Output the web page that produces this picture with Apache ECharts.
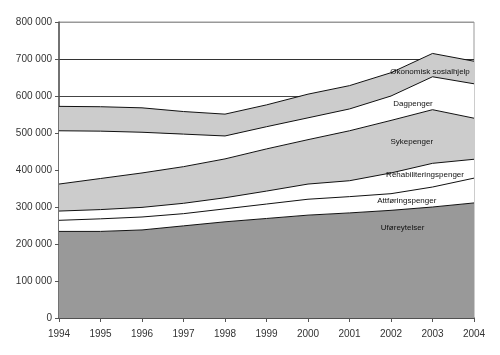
<!DOCTYPE html>
<html>
<head>
<meta charset="utf-8">
<script src="https://cdn.jsdelivr.net/npm/echarts@6/dist/echarts.min.js"></script>
<style>
html,body{margin:0;padding:0;background:#fff;}
#chart{width:500px;height:355px;}
</style>
</head>
<body>
<div id="chart"></div>
<script>
const years = ['1994','1995','1996','1997','1998','1999','2000','2001','2002','2003','2004'];
const uforeytelser     = [234000,234000,238000,249000,260000,269000,278000,284000,291000,300000,311000];
const attforingspenger = [30000,34000,35000,33000,35000,39000,43000,44000,45000,54000,67000];
const rehabilitering   = [25000,25000,26000,28000,30000,35000,41000,43000,56000,64000,51000];
const sykepenger       = [73000,84000,93000,99000,105000,114000,120000,135000,142000,145000,111000];
const dagpenger        = [144000,128000,110000,88000,62000,60000,59000,59000,66000,89000,93000];
const sosialhjelp      = [66000,66000,66000,61000,59000,59000,64000,63000,63000,63000,61000];
const seriesNames = ['Uføreytelser','Attføringspenger','Rehabiliteringspenger','Sykepenger','Dagpenger','Økonomisk sosialhjelp'];
const yTicks = [0,100000,200000,300000,400000,500000,600000,700000,800000];
// label anchors: [name, fractional year index, value]
const labelAnchors = [
  ['Økonomisk sosialhjelp', 8.94, 665000],
  ['Dagpenger', 8.53, 580000],
  ['Sykepenger', 8.5, 476000],
  ['Rehabiliteringspenger', 8.82, 386000],
  ['Attføringspenger', 8.38, 318000],
  ['Uføreytelser', 8.28, 245000]
];

const dataSets = [uforeytelser, attforingspenger, rehabilitering, sykepenger, dagpenger, sosialhjelp];
const fills = ['#999999','#ffffff','#ffffff','#cccccc','#ffffff','#cccccc'];

function fmt(v){ return String(v).replace(/\B(?=(\d{3})+(?!\d))/g,' '); }

const chart = echarts.init(document.getElementById('chart'), null, {renderer:'canvas'});
const font = 'Liberation Sans, Arial, sans-serif';
chart.setOption({
  animation:false,
  backgroundColor:'#fff',
  grid:{left:59,right:26,top:22,bottom:37,show:true,borderColor:'#999',borderWidth:1,backgroundColor:'transparent'},
  xAxis:{
    type:'category', data:years, boundaryGap:false,
    axisLine:{lineStyle:{color:'#555',width:1.5}},
    axisTick:{show:true,length:4,lineStyle:{color:'#555'}},
    axisLabel:{color:'#333',fontFamily:font,fontSize:10,margin:11},
    splitLine:{show:false}
  },
  yAxis:{
    type:'value', min:0, max:800000, interval:100000,
    axisLine:{show:true,lineStyle:{color:'#555',width:1.5}},
    axisTick:{show:true,length:4,lineStyle:{color:'#555'}},
    axisLabel:{color:'#333',fontFamily:font,fontSize:10,margin:7,formatter:fmt},
    splitLine:{show:true,lineStyle:{color:['#444','#444','#444','#444','#444','#444','#444','#333','#999'],width:1}}
  },
  series: dataSets.map((d,i)=>({
    name:seriesNames[i], type:'line', stack:'total', data:d,
    symbol:'none', smooth:false,
    lineStyle:{color:'#111',width:1},
    areaStyle:{color:fills[i],opacity:1}
  }))
});

const p0 = chart.convertToPixel({gridIndex:0}, [years[0], 0]);
const p1 = chart.convertToPixel({gridIndex:0}, [years[1], 0]);
const step = p1[0]-p0[0];
const graphics = labelAnchors.map(([t, fi, v])=>{
  const py = chart.convertToPixel({yAxisIndex:0}, v);
  return {type:'text', x:p0[0]+fi*step, y:py, z:100,
    style:{text:t, fill:'#111', font:'8px '+font, textAlign:'center', textVerticalAlign:'middle'}};
});
chart.setOption({graphic:graphics});
</script>
</body>
</html>
